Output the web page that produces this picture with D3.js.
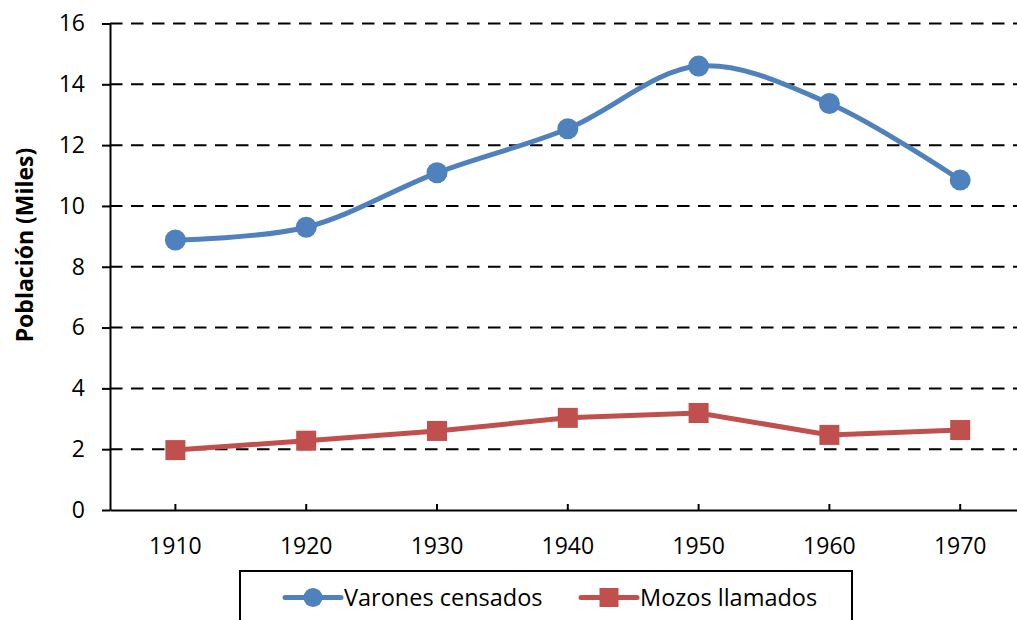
<!DOCTYPE html>
<html>
<head>
<meta charset="utf-8">
<script src="https://cdn.jsdelivr.net/npm/d3@7"></script>
<style>
  body { margin: 0; background: #fff; }
  svg text { font-family: "Open Sans", sans-serif; fill: #000; }
</style>
</head>
<body>
<div id="chart"></div>
<script>
// data
var years = ['1910', '1920', '1930', '1940', '1950', '1960', '1970'];
var varones = [8.88, 9.30, 11.09, 12.54, 14.60, 13.37, 10.85];
var mozos = [1.97, 2.28, 2.60, 3.03, 3.19, 2.47, 2.63];
var yTicks = [0, 2, 4, 6, 8, 10, 12, 14, 16];
var seriesNames = ['Varones censados', 'Mozos llamados'];

var width = 1017, height = 620;
var blue = '#4F81BD', red = '#C0504D';

// plot area (right edge falls outside the picture, like the original)
var plotLeft = 110, plotRight = 1025.6, plotTop = 23.5, plotBottom = 510;

var svg = d3.select('#chart').append('svg')
  .attr('width', width)
  .attr('height', height);

var x = d3.scaleBand().domain(years).range([plotLeft, plotRight]);
var y = d3.scaleLinear().domain([0, 16]).range([plotBottom, plotTop]);
var xc = function (d) { return x(d) + x.bandwidth() / 2; };

// dashed gridlines
svg.append('g').selectAll('line')
  .data(yTicks.filter(function (t) { return t > 0; }))
  .enter().append('line')
  .attr('x1', plotLeft).attr('x2', plotRight)
  .attr('y1', function (d) { return y(d); })
  .attr('y2', function (d) { return y(d); })
  .attr('stroke', '#000')
  .attr('stroke-width', 2)
  .attr('stroke-dasharray', '12.5,8.5');

// y axis
var yAxis = svg.append('g')
  .attr('transform', 'translate(' + plotLeft + ',0)')
  .call(d3.axisLeft(y).tickValues(yTicks).tickSize(8).tickPadding(17).tickSizeOuter(0));
yAxis.select('.domain').attr('stroke', '#000').attr('stroke-width', 2);
yAxis.selectAll('.tick line').attr('stroke', '#000').attr('stroke-width', 2);
yAxis.selectAll('.tick text').attr('font-size', 23).style('font-family', '"Open Sans", sans-serif');

// x axis, ticks point inward at category centres
var xAxis = svg.append('g')
  .attr('transform', 'translate(0,' + plotBottom + ')')
  .call(d3.axisBottom(x).tickSize(-6).tickSizeOuter(0).tickPadding(0));
xAxis.select('.domain').attr('stroke', '#000').attr('stroke-width', 2);
xAxis.selectAll('.tick line').attr('stroke', '#000').attr('stroke-width', 2);
xAxis.selectAll('.tick text')
  .attr('font-size', 23)
  .attr('y', 44).attr('dy', 0)
  .style('font-family', '"Open Sans", sans-serif');

// axis title
svg.append('text')
  .attr('transform', 'translate(33,245) rotate(-90)')
  .attr('text-anchor', 'middle')
  .attr('font-size', 23)
  .attr('font-weight', 'bold')
  .text('Población (Miles)');

// Varones censados: smoothed line with circles
var smooth = d3.line()
  .x(function (d, i) { return xc(years[i]); })
  .y(function (d) { return y(d); })
  .curve(d3.curveCatmullRom.alpha(0.5));

svg.append('path')
  .datum(varones)
  .attr('d', smooth)
  .attr('fill', 'none')
  .attr('stroke', blue)
  .attr('stroke-width', 5);

svg.selectAll('circle.varones').data(varones)
  .enter().append('circle')
  .attr('class', 'varones')
  .attr('cx', function (d, i) { return xc(years[i]); })
  .attr('cy', function (d) { return y(d); })
  .attr('r', 10.5)
  .attr('fill', blue);

// Mozos llamados: straight line with squares
var straight = d3.line()
  .x(function (d, i) { return xc(years[i]); })
  .y(function (d) { return y(d); });

svg.append('path')
  .datum(mozos)
  .attr('d', straight)
  .attr('fill', 'none')
  .attr('stroke', red)
  .attr('stroke-width', 5);

var sq = 20;
svg.selectAll('rect.mozos').data(mozos)
  .enter().append('rect')
  .attr('class', 'mozos')
  .attr('x', function (d, i) { return xc(years[i]) - sq / 2; })
  .attr('y', function (d) { return y(d) - sq / 2; })
  .attr('width', sq).attr('height', sq)
  .attr('fill', red);

// legend
svg.append('rect')
  .attr('x', 240).attr('y', 571)
  .attr('width', 612).attr('height', 70)
  .attr('fill', 'none')
  .attr('stroke', '#000')
  .attr('stroke-width', 2);

var legendItems = [
  { name: seriesNames[0], color: blue, shape: 'circle', x0: 285 },
  { name: seriesNames[1], color: red, shape: 'square', x0: 581 }
];
var ly = 597.5;
var lg = svg.selectAll('g.legend').data(legendItems)
  .enter().append('g')
  .attr('class', 'legend')
  .attr('transform', function (d) { return 'translate(' + d.x0 + ',' + ly + ')'; });

lg.append('line')
  .attr('x1', 0).attr('x2', 56)
  .attr('stroke', function (d) { return d.color; })
  .attr('stroke-width', 5)
  .attr('stroke-linecap', 'round');

lg.each(function (d) {
  var g = d3.select(this);
  if (d.shape === 'circle') {
    g.append('circle').attr('cx', 28).attr('r', 9.5).attr('fill', d.color);
  } else {
    g.append('rect').attr('x', 28 - 9.5).attr('y', -9.5)
      .attr('width', 19).attr('height', 19).attr('fill', d.color);
  }
});

lg.append('text')
  .attr('x', 59)
  .attr('y', 8.5)
  .attr('font-size', 23.5)
  .text(function (d) { return d.name; });
</script>
</body>
</html>
